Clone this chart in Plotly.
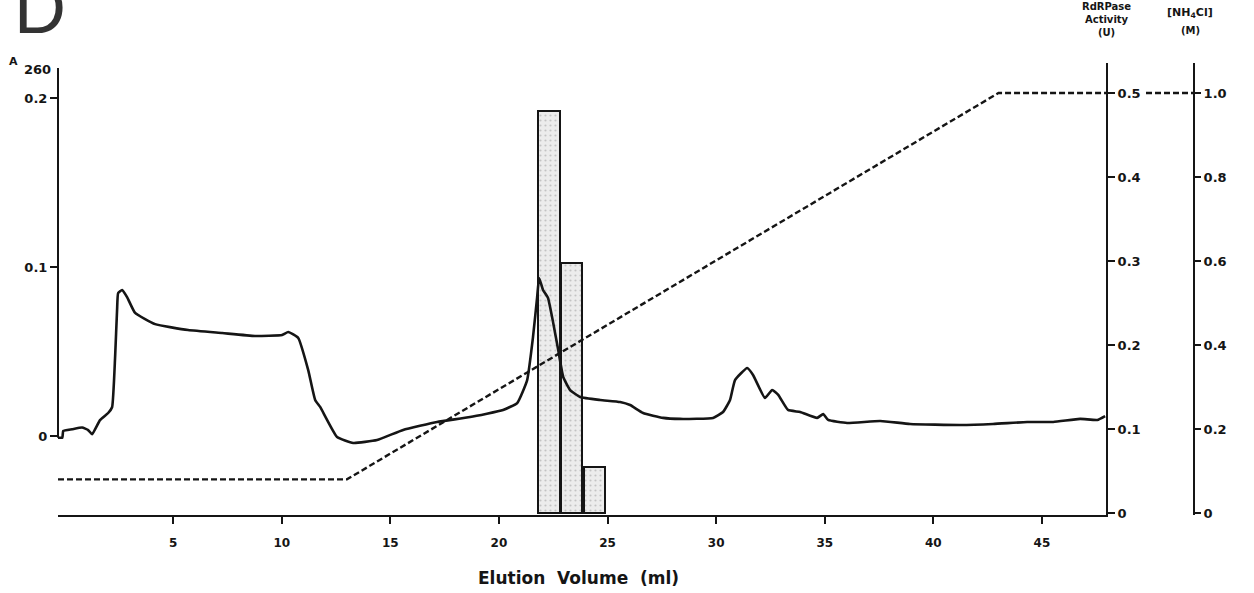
import plotly.graph_objects as go

# --- A260 elution profile (ml, absorbance) ---
elution_ml = [-0.3, -0.1, -0.06, 0.35, 0.81, 1.09, 1.27, 1.64, 2.01, 2.19, 2.33, 2.42, 2.47,
              2.65, 2.88, 3.25, 4.17, 5.69, 7.26, 8.77, 10.02, 10.30, 10.76, 11.22, 11.54,
              11.77, 12.55, 13.29, 14.39, 15.59, 17.15, 18.67, 20.19, 20.84, 21.30, 21.57,
              21.76, 21.85, 22.03, 22.26, 22.50, 22.73, 22.96, 23.28, 23.74, 24.66, 25.58,
              26.04, 26.64, 27.56, 28.34, 29.86, 30.32, 30.64, 30.87, 31.43, 31.70, 32.25,
              32.58, 32.86, 33.31, 33.87, 34.65, 34.93, 35.16, 36.03, 37.55, 38.93, 41.23,
              42.75, 44.32, 45.52, 46.76, 47.55, 47.91]
a260 = [-0.001, -0.001, 0.003, 0.004, 0.005, 0.0035, 0.001, 0.0095, 0.0136, 0.017, 0.047,
        0.0746, 0.0846, 0.0864, 0.0822, 0.0728, 0.0662, 0.0627, 0.0609, 0.0592, 0.0598,
        0.0615, 0.058, 0.039, 0.0213, 0.0172, -0.0006, -0.0041, -0.0024, 0.0036, 0.0083,
        0.0112, 0.0154, 0.0195, 0.0331, 0.0586, 0.0822, 0.0935, 0.0864, 0.0817, 0.0669,
        0.0509, 0.0349, 0.0272, 0.0231, 0.0213, 0.0201, 0.0183, 0.0136, 0.0107, 0.0101,
        0.0107, 0.0142, 0.0213, 0.0331, 0.0402, 0.0361, 0.0225, 0.0272, 0.0243, 0.0154,
        0.0142, 0.0107, 0.013, 0.0095, 0.0077, 0.0089, 0.0071, 0.0065, 0.0071, 0.0083,
        0.0083, 0.0101, 0.0095, 0.0118]

# --- RdRPase activity per fraction ---
fraction_ml = [22.3, 23.35, 24.4]
activity_u = [0.479, 0.298, 0.055]

# --- NH4Cl gradient ---
gradient_ml = [-0.3, 13.0, 43.0, 47.95]
gradient_m = [0.08, 0.08, 1.0, 1.0]

x_ticks = [5, 10, 15, 20, 25, 30, 35, 40, 45]
a260_ticks = [0, 0.1, 0.2]
activity_ticks = [0, 0.1, 0.2, 0.3, 0.4, 0.5]
salt_ticks = [0, 0.2, 0.4, 0.6, 0.8, 1.0]

W, H = 1254, 593
ML, MR, MT, MB = 58, 60, 63, 78
PW = W - ML - MR
PH = H - MT - MB
X_END_PX = 1106  # right edge of the x axis


def px_x(px):
    return (px - ML) / PW


def px_y(py):
    return (H - MB - py) / PH


FONT = "DejaVu Sans"
INK = "#151515"
tickfont = dict(family=FONT, size=13, color=INK, weight="bold")
xtickfont = dict(family=FONT, size=12, color=INK, weight="bold")

fig = go.Figure()

fig.add_trace(go.Bar(
    x=fraction_ml, y=activity_u, width=0.98, yaxis="y",
    marker=dict(color="#e9e9e9", line=dict(color=INK, width=2),
                pattern=dict(shape=".", fgcolor="#9a9a9a", bgcolor="#ececec",
                             size=5, solidity=0.15)),
    showlegend=False,
))

fig.add_trace(go.Scatter(
    x=elution_ml, y=a260, yaxis="y2", mode="lines",
    line=dict(color=INK, width=2.6, shape="spline", smoothing=0.4),
    showlegend=False,
))

fig.add_trace(go.Scatter(
    x=gradient_ml, y=gradient_m, yaxis="y3", mode="lines",
    line=dict(color=INK, width=2.4, dash="6px,3px"),
    showlegend=False,
))

x_dom_end = (X_END_PX - ML) / PW

fig.update_layout(
    width=W, height=H,
    margin=dict(l=ML, r=MR, t=MT, b=MB),
    paper_bgcolor="white", plot_bgcolor="white",
    bargap=0,
    xaxis=dict(domain=[0, x_dom_end], range=[-0.3, 47.95],
               tickvals=x_ticks, ticks="outside", ticklen=7, tickwidth=1.5,
               tickcolor=INK, showline=True, linecolor=INK, linewidth=2,
               showgrid=False, zeroline=False, tickfont=xtickfont,
               ticklabelstandoff=9),
    yaxis=dict(side="right", anchor="x", range=[-0.00238, 0.5357],
               tickvals=activity_ticks, ticktext=["0", "0.1", "0.2", "0.3", "0.4", "0.5"],
               ticks="outside", ticklen=7, tickwidth=1.5, tickcolor=INK,
               showline=True, linecolor=INK, linewidth=2,
               showgrid=False, zeroline=False, tickfont=tickfont),
    yaxis2=dict(overlaying="y", side="left", anchor="x", range=[-0.04675, 0.2207],
                tickvals=a260_ticks, ticktext=["0", "0.1", "0.2"],
                ticks="outside", ticklen=7, tickwidth=1.5, tickcolor=INK,
                showline=False, showgrid=False, zeroline=False, tickfont=tickfont),
    yaxis3=dict(overlaying="y", side="right", anchor="free", position=1.0,
                range=[-0.00476, 1.0714],
                tickvals=salt_ticks, ticktext=["0", "0.2", "0.4", "0.6", "0.8", "1.0"],
                ticks="outside", ticklen=6, tickwidth=1.5, tickcolor=INK,
                showline=True, linecolor=INK, linewidth=2,
                showgrid=False, zeroline=False, tickfont=tickfont),
)

# left A260 axis line: from the zero baseline up to the top of the scale
fig.add_shape(type="line", xref="paper", yref="y2", x0=0, x1=0,
              y0=a260[0], y1=0.2178, line=dict(color=INK, width=2))

# gradient plateau continues across to the salt axis
fig.add_shape(type="line", xref="paper", yref="y3",
              x0=px_x(1146), x1=1.0, y0=gradient_m[-1], y1=gradient_m[-1],
              line=dict(color=INK, width=2.4, dash="6px,3px"))

ann = dict(showarrow=False, xref="paper", yref="paper")
fig.add_annotation(text="D", x=px_x(12), y=px_y(50), xanchor="left", yanchor="bottom",
                   font=dict(family="Liberation Sans", size=72, color="#333333"), **ann)
fig.add_annotation(text="<b>A</b>", x=px_x(13), y=px_y(62), xanchor="center",
                   yanchor="middle", font=dict(family=FONT, size=11, color=INK), **ann)
fig.add_annotation(text="<b>260</b>", x=px_x(37), y=px_y(70), xanchor="center",
                   yanchor="middle", font=dict(family=FONT, size=13, color=INK), **ann)
fig.add_annotation(text="<b>RdRPase<br>Activity<br>(U)</b>", x=px_x(1106), y=px_y(19),
                   xanchor="center", yanchor="middle",
                   font=dict(family=FONT, size=10, color=INK), **ann)
fig.add_annotation(text="<b>[NH<sub>4</sub>Cl]</b>", x=px_x(1190), y=px_y(13),
                   xanchor="center", yanchor="middle",
                   font=dict(family=FONT, size=11, color=INK), **ann)
fig.add_annotation(text="<b>(M)</b>", x=px_x(1190), y=px_y(31),
                   xanchor="center", yanchor="middle",
                   font=dict(family=FONT, size=10, color=INK), **ann)
fig.add_annotation(text="<b>Elution  Volume  (ml)</b>", x=px_x(578), y=px_y(578),
                   xanchor="center", yanchor="middle",
                   font=dict(family=FONT, size=17, color=INK), **ann)

fig.write_html("out.html")
